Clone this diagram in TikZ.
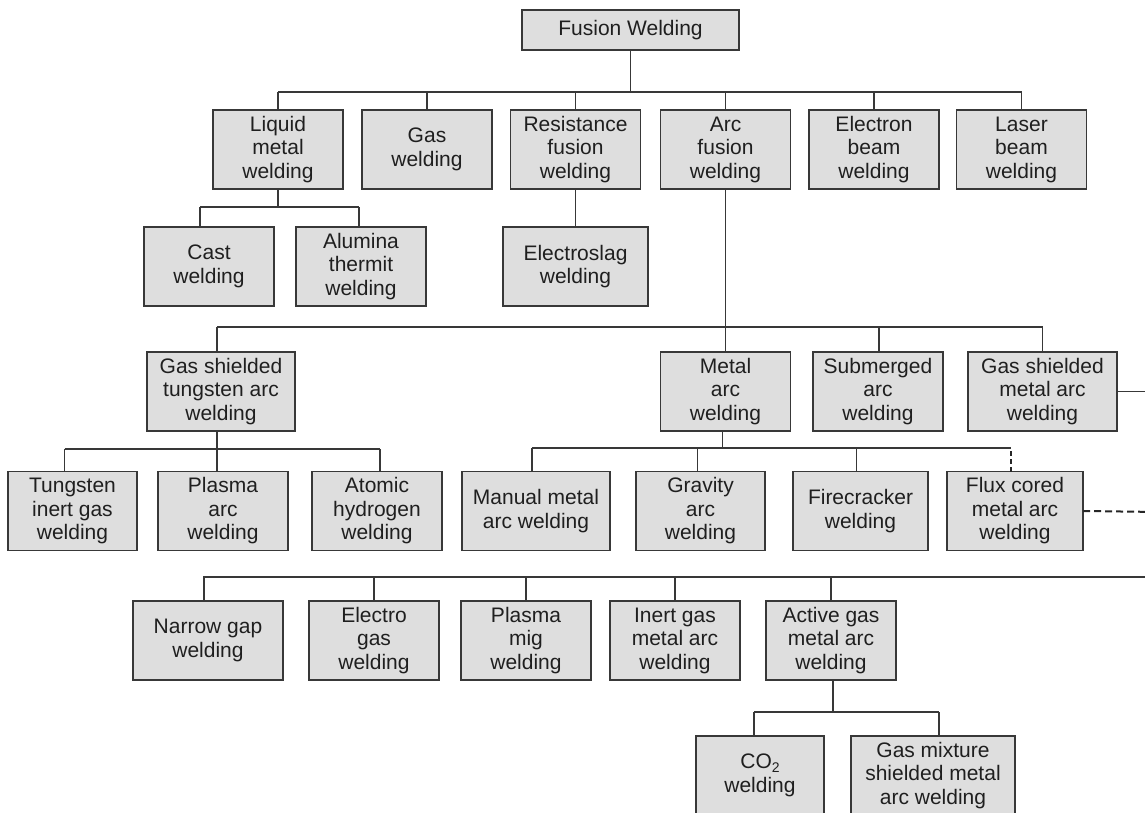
\documentclass[tikz,border=0pt]{standalone}
\usepackage{fontspec}
\setmainfont{Liberation Sans}
\definecolor{boxgray}{HTML}{DEDEDE}
\definecolor{linegray}{HTML}{383838}
\begin{document}
\begin{tikzpicture}[x=1pt, y=1pt, yscale=-1, inner sep=0pt, outer sep=0pt,
  wbox/.style={rectangle, draw=linegray, fill=boxgray, line width=1.4, minimum width=130, minimum height=79, align=center, text=black!88, font=\fontsize{21}{23.5}\selectfont},
  link/.style={draw=linegray, line width=1.3},
  dlink/.style={draw=black!85, line width=2, dash pattern=on 7pt off 4pt}]
\useasboundingbox (0,0) rectangle (1145,812);
\node[wbox, minimum width=217, minimum height=40] (fusion) at (630.5,30) {Fusion Welding};
\node[wbox] (liquid) at (278,149.5) {Liquid\\metal\\welding};
\node[wbox] (gas) at (427,149.5) {Gas\\welding};
\node[wbox] (resist) at (575.5,149.5) {Resistance\\fusion\\welding};
\node[wbox] (arcfus) at (725.5,149.5) {Arc\\fusion\\welding};
\node[wbox] (ebeam) at (874,149.5) {Electron\\beam\\welding};
\node[wbox] (laser) at (1021.5,149.5) {Laser\\beam\\welding};
\node[wbox] (cast) at (209,266.5) {Cast\\welding};
\node[wbox] (thermit) at (361,266.5) {Alumina\\thermit\\welding};
\node[wbox, minimum width=145] (eslag) at (575.5,266.5) {Electroslag\\welding};
\node[wbox, minimum width=148] (gstaw) at (221,391.5) {Gas shielded\\tungsten arc\\welding};
\node[wbox] (metarc) at (725.5,391.5) {Metal\\arc\\welding};
\node[wbox] (subarc) at (878,391.5) {Submerged\\arc\\welding};
\node[wbox, minimum width=149] (gsmaw) at (1042.5,391.5) {Gas shielded\\metal arc\\welding};
\node[wbox, minimum width=129] (tig) at (72.5,511) {Tungsten\\inert gas\\welding};
\node[wbox] (parc) at (223,511) {Plasma\\arc\\welding};
\node[wbox] (atomic) at (377,511) {Atomic\\hydrogen\\welding};
\node[wbox, minimum width=148] (mma) at (536,511) {Manual metal\\arc welding};
\node[wbox, minimum width=129] (gravity) at (700.5,511) {Gravity\\arc\\welding};
\node[wbox, minimum width=135] (firecr) at (860.5,511) {Firecracker\\welding};
\node[wbox, minimum width=136] (flux) at (1015,511) {Flux cored\\metal arc\\welding};
\node[wbox, minimum width=150] (narrow) at (208,640.5) {Narrow gap\\welding};
\node[wbox] (egas) at (374,640.5) {Electro\\gas\\welding};
\node[wbox] (pmig) at (526,640.5) {Plasma\\mig\\welding};
\node[wbox] (inert) at (675,640.5) {Inert gas\\metal arc\\welding};
\node[wbox] (active) at (831,640.5) {Active gas\\metal arc\\welding};
\node[wbox, minimum width=128] (co2) at (760,775.5) {CO\raisebox{-0.35ex}{\fontsize{14}{14}\selectfont 2}\\welding};
\node[wbox, minimum width=164] (gasmix) at (933,775.5) {Gas mixture\\shielded metal\\arc welding};
\coordinate (topbus) at (0,92);
\coordinate (liqbus) at (0,207);
\coordinate (arcbus) at (0,327);
\coordinate (tigbus) at (0,449);
\coordinate (mabus) at (0,448);
\coordinate (lowbus) at (1160,577);
\coordinate (gsmawout) at (1160,391.5);
\coordinate (fluxout) at (1160,512);
\coordinate (actbus) at (0,712);
\draw[link] (fusion.south) -- (fusion.south |- topbus);
\draw[link] (liquid.north |- topbus) -- (laser.north |- topbus);
\foreach \n in {liquid,gas,resist,arcfus,ebeam,laser}
  \draw[link] (\n.north) -- (\n.north |- topbus);
\draw[link] (liquid.south) -- (liquid.south |- liqbus);
\draw[link] ([xshift=-9pt]cast.north |- liqbus) -- ([xshift=-2pt]thermit.north |- liqbus);
\foreach \n/\dx in {cast/-9,thermit/-2}
  \draw[link] ([xshift=\dx pt]\n.north) -- ([xshift=\dx pt]\n.north |- liqbus);
\draw[link] (resist.south) -- (eslag.north);
\draw[link] (arcfus.south) -- (metarc.north);
\draw[link] ([xshift=-4pt]gstaw.north |- arcbus) -- (gsmaw.north |- arcbus);
\foreach \n/\dx in {gstaw/-4,subarc/1,gsmaw/0}
  \draw[link] ([xshift=\dx pt]\n.north) -- ([xshift=\dx pt]\n.north |- arcbus);
\draw[link] ([xshift=-4pt]gstaw.south) -- ([xshift=-4pt]gstaw.south |- tigbus);
\draw[link] ([xshift=-8pt]tig.north |- tigbus) -- ([xshift=3pt]atomic.north |- tigbus);
\foreach \n/\dx in {tig/-8,parc/-6,atomic/3}
  \draw[link] ([xshift=\dx pt]\n.north) -- ([xshift=\dx pt]\n.north |- tigbus);
\draw[link] ([xshift=-3pt]metarc.south) -- ([xshift=-3pt]metarc.south |- mabus);
\draw[link] ([xshift=-4pt]mma.north |- mabus) -- ([xshift=-4pt]flux.north |- mabus);
\foreach \n/\dx in {mma/-4,gravity/-3,firecr/-4}
  \draw[link] ([xshift=\dx pt]\n.north) -- ([xshift=\dx pt]\n.north |- mabus);
\draw[dlink, line width=1.6, dash pattern=on 5pt off 3pt] ([xshift=-4pt]flux.north) -- ([xshift=-4pt]flux.north |- mabus);
\draw[dlink] (flux.east) -- (fluxout);
\draw[link] (gsmaw.east) -- (gsmawout) |- (lowbus) -| ([xshift=-4pt]narrow.north);
\foreach \n in {egas,pmig,inert,active}
  \draw[link] (\n.north) -- (\n.north |- lowbus);
\draw[link] ([xshift=2pt]active.south) -- ([xshift=2pt]active.south |- actbus);
\draw[link] ([xshift=-6pt]co2.north |- actbus) -- ([xshift=6pt]gasmix.north |- actbus);
\foreach \n/\dx in {co2/-6,gasmix/6}
  \draw[link] ([xshift=\dx pt]\n.north) -- ([xshift=\dx pt]\n.north |- actbus);
\end{tikzpicture}
\end{document}
